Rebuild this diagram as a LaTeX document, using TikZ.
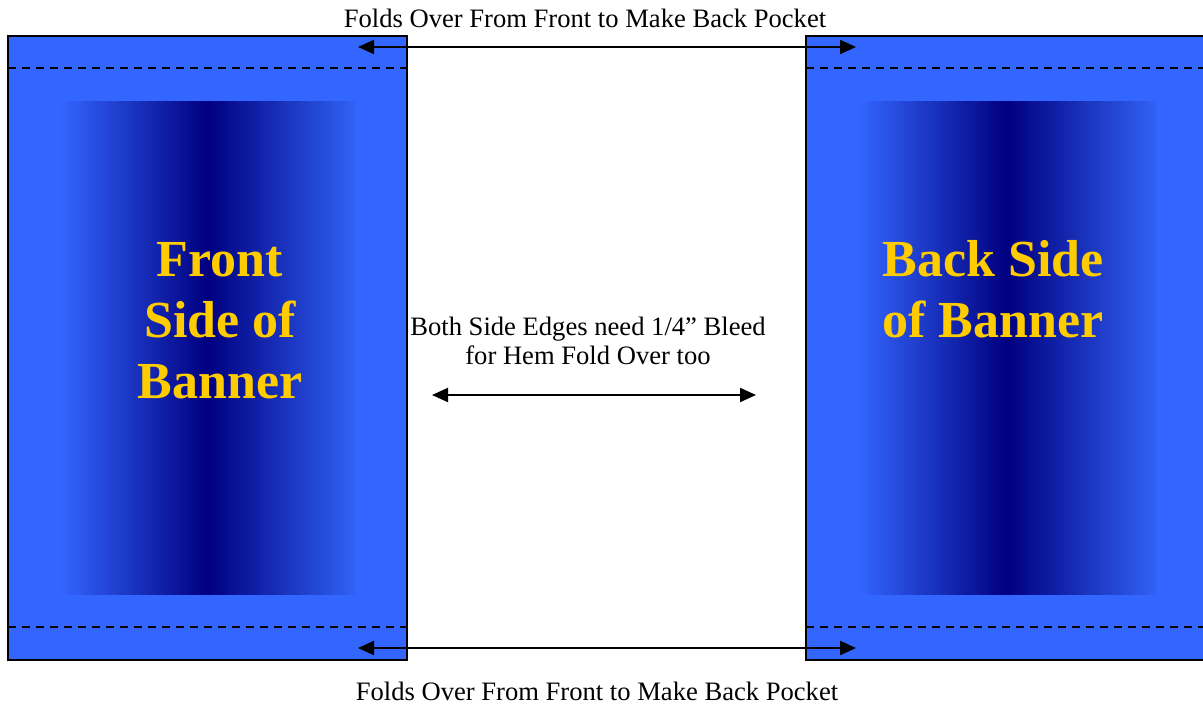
\documentclass[tikz,border=0pt]{standalone}
\usepackage{fontspec}
\setmainfont{Liberation Serif}
\usetikzlibrary{arrows.meta}

\definecolor{panelblue}{HTML}{3366FF}
\definecolor{shadenavy}{HTML}{000080}
\definecolor{titlegold}{HTML}{FFCC00}

\begin{document}
\begin{tikzpicture}[x=0.5pt,y=-0.5pt,
  panel/.style={fill=panelblue,draw=black,line width=0.8pt},
  hemline/.style={black,line width=1pt,dash pattern=on 4pt off 3pt},
  foldarrow/.style={line width=1pt,{Triangle[length=8pt,width=7pt]}-{Triangle[length=8pt,width=7pt]}},
  title/.style={text=titlegold,font=\fontsize{26}{30.5}\selectfont\bfseries,align=center},
  note/.style={font=\fontsize{13.3}{14.5}\selectfont,align=center}]
\useasboundingbox (0,0) rectangle (1203,707);
\clip (0,0) rectangle (1203,707);
% front side
\draw[panel] (8,36) rectangle (407,660);
\shade[left color=panelblue,right color=panelblue!96!black,middle color=shadenavy] (60,101) rectangle (355,594);
\draw[hemline] (8,68) -- (407,68);
\draw[hemline] (8,627) -- (407,627);
\node[title] (fronttitle) at (220,321) {Front\\Side of\\Banner};
% back side
\draw[panel] (806,36) rectangle (1206,660);
\shade[left color=panelblue,right color=panelblue!96!black,middle color=shadenavy] (858,101) rectangle (1156,594);
\draw[hemline] (806,68) -- (1206,68);
\draw[hemline] (806,627) -- (1206,627);
\node[title] (backtitle) at (993,289) {Back Side\\of Banner};
% labels
\node[note] (toplabel) at (585,18) {Folds Over From Front to Make Back Pocket};
\node[note] (bottomlabel) at (597,691) {Folds Over From Front to Make Back Pocket};
\node[note] (bleednote) at (588,341) {Both Side Edges need 1/4” Bleed\\for Hem Fold Over too};
% arrows
\coordinate (topleft) at (358,47);
\coordinate (topright) at (856,47);
\coordinate (midleft) at (432,395);
\coordinate (midright) at (756,395);
\coordinate (botleft) at (358,648);
\coordinate (botright) at (856,648);
\draw[foldarrow] (topleft) -- (topright);
\draw[foldarrow] (midleft) -- (midright);
\draw[foldarrow] (botleft) -- (botright);
\end{tikzpicture}
\end{document}
